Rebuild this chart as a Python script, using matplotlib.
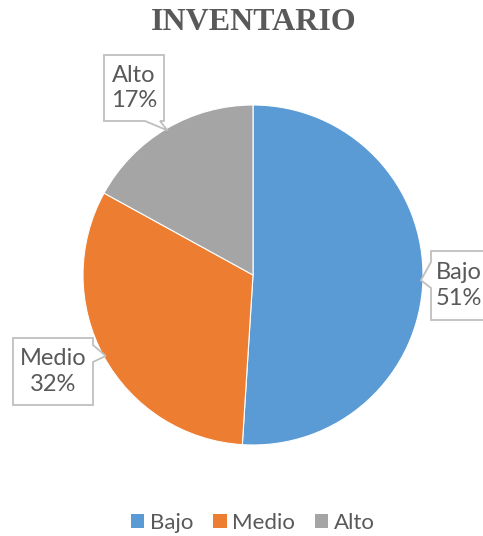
import matplotlib
matplotlib.use("Agg")
import matplotlib.pyplot as plt
from matplotlib.patches import Polygon, Patch
import numpy as np

categories = ["Bajo", "Medio", "Alto"]
values = [51, 32, 17]
colors = ["#5B9BD5", "#ED7D31", "#A5A5A5"]
title = "INVENTARIO"

W, H = 483, 536
fig = plt.figure(figsize=(W / 100, H / 100), dpi=100)
ax = fig.add_axes([0, 0, 1, 1])

CX, CY, R = 253, 275, 170  # image coords (y down)


def Y(y):
    return H - y


wedges, _ = ax.pie(values, colors=colors, startangle=90, counterclock=False,
                   center=(CX, Y(CY)), radius=R,
                   wedgeprops=dict(edgecolor="white", linewidth=0.8))
ax.set_xlim(0, W)
ax.set_ylim(0, H)
ax.set_aspect("equal")
ax.axis("off")

# callout boxes (layout in image coordinates)
boxes = {
    "Bajo": dict(rect=(431, 251, 492, 320), side="left", base=(262, 288), tc=459),
    "Medio": dict(rect=(13, 338, 93, 405), side="right", base=(345, 362), tc=53),
    "Alto": dict(rect=(104, 55, 164, 121), side="bottom", base=(145, 160), tc=134),
}

total = sum(values)
start = 90.0
txtc = "#595959"
for cat, v, w in zip(categories, values, wedges):
    ang = start - v / total * 360 / 2
    start -= v / total * 360
    tx = CX + (R - 2) * np.cos(np.radians(ang))
    ty = CY - (R - 2) * np.sin(np.radians(ang))
    b = boxes[cat]
    x0, y0, x1, y1 = b["rect"]
    b0, b1 = b["base"]
    tip = (tx, ty)
    if b["side"] == "bottom":
        pts = [(x0, y0), (x1, y0), (x1, y1), (b1, y1), tip, (b0, y1), (x0, y1)]
    elif b["side"] == "left":
        pts = [(x0, y0), (x1, y0), (x1, y1), (x0, y1), (x0, b1), tip, (x0, b0)]
    else:
        pts = [(x0, y0), (x1, y0), (x1, b0), tip, (x1, b1), (x1, y1), (x0, y1)]
    pts = [(px, Y(py)) for px, py in pts]
    ax.add_patch(Polygon(pts, closed=True, facecolor="white", edgecolor="#BFBFBF",
                         linewidth=1.3, zorder=5, clip_on=False))
    cy = (y0 + y1) / 2
    ax.text(b["tc"], Y(cy), f"{cat}\n{v}%", ha="center", va="center", fontsize=17,
            family="Lato", color=txtc, linespacing=1.25, zorder=6)

fig.text(254 / W, 1 - 23 / H, title, ha="center", va="center", fontsize=23,
         family="Liberation Serif", fontweight="bold", color=txtc)

handles = [Patch(facecolor=c, edgecolor="none") for c in colors]
leg = fig.legend(handles, categories, loc="center", bbox_to_anchor=(253 / W, 1 - 523 / H),
                 ncol=3, frameon=False, handlelength=0.6, handleheight=0.6,
                 handletextpad=0.25, columnspacing=0.9,
                 prop=dict(family="Lato", size=16))
for t in leg.get_texts():
    t.set_color(txtc)

fig.savefig("out.png", dpi=100)
